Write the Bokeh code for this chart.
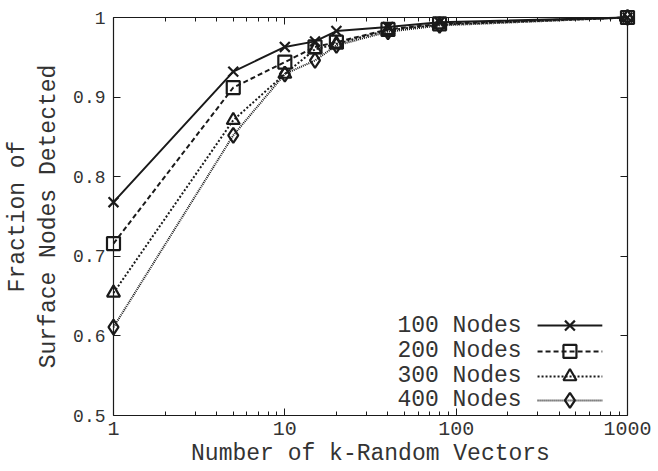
import math
from bokeh.plotting import figure
from bokeh.models import LogAxis, LinearAxis, Range1d, FixedTicker
from bokeh.embed import file_html
from bokeh.resources import INLINE
from bokeh.core.properties import value

# ---- data ----
k_vectors = [1, 5, 10, 15, 20, 40, 80, 1000]
nodes_100 = [0.768, 0.932, 0.963, 0.970, 0.983, 0.988, 0.994, 1.0]
nodes_200 = [0.716, 0.912, 0.944, 0.963, 0.969, 0.985, 0.992, 1.0]
nodes_300 = [0.654, 0.871, 0.929, 0.960, 0.967, 0.984, 0.991, 1.0]
nodes_400 = [0.611, 0.852, 0.929, 0.946, 0.965, 0.982, 0.990, 1.0]
series_labels = ["100 Nodes", "200 Nodes", "300 Nodes", "400 Nodes"]

x_ticks = [1, 10, 100, 1000]
x_tick_labels = ["1", "10", "100", "1000"]
y_ticks = [0.5, 0.6, 0.7, 0.8, 0.9, 1.0]
y_tick_labels = ["0.5", "0.6", "0.7", "0.8", "0.9", "1"]
x_title = "Number of k-Random Vectors"
y_title = "Fraction of\nSurface Nodes Detected"

FONT = "Liberation Mono"
INK = "#1a1a1a"
TXT = "#333333"

# ---- layout (pixels): the frame fills the canvas, the axis box sits inside it ----
W, H = 658, 471
BOX_L, BOX_R, BOX_T, BOX_B = 113, 627, 17, 415
XMIN, XMAX = 1, 1000
YMIN, YMAX = 0.5, 1.0
dec = math.log10(XMAX) - math.log10(XMIN)
px_per_dec = (BOX_R - BOX_L) / dec
px_per_y = (BOX_B - BOX_T) / (YMAX - YMIN)
x_lo = XMIN * 10 ** (-BOX_L / px_per_dec)
x_hi = XMAX * 10 ** ((W - BOX_R) / px_per_dec)
y_lo = YMIN - (H - BOX_B) / px_per_y
y_hi = YMAX + BOX_T / px_per_y

p = figure(width=W, height=H, x_axis_type="log",
           x_range=Range1d(x_lo, x_hi), y_range=Range1d(y_lo, y_hi),
           output_backend="svg", toolbar_location=None,
           min_border=0, min_border_left=0, min_border_right=0,
           min_border_top=0, min_border_bottom=0)
p.xgrid.visible = False
p.ygrid.visible = False
p.outline_line_color = None
p.background_fill_color = "white"
p.border_fill_color = "white"

minor = [m * d for d in (1, 10, 100) for m in range(2, 10)]
xticker = FixedTicker(ticks=x_ticks, minor_ticks=minor)
yticker = FixedTicker(ticks=y_ticks)

bottom = p.below[0]
left = p.left[0]
top = LogAxis()
right = LinearAxis()
p.add_layout(top, "above")
p.add_layout(right, "right")

for ax in (bottom, top):
    ax.ticker = xticker
    ax.bounds = (XMIN, XMAX)
for ax in (left, right):
    ax.ticker = yticker
    ax.bounds = (YMIN, YMAX)

bottom.fixed_location = YMIN
top.fixed_location = YMAX
left.fixed_location = XMIN
right.fixed_location = XMAX

for ax in (bottom, left, top, right):
    ax.axis_line_color = INK
    ax.axis_line_width = 1.2
    ax.major_tick_line_color = INK
    ax.minor_tick_line_color = INK
    ax.major_tick_in = 7
    ax.major_tick_out = 0
    ax.minor_tick_in = 4
    ax.minor_tick_out = 0
    ax.major_label_text_font = FONT
    ax.major_label_text_color = TXT
    ax.axis_label_text_font = FONT
    ax.axis_label_text_color = TXT
    ax.axis_label_text_font_style = "normal"
    ax.axis_label_text_font_size = "23px"
left.minor_tick_line_color = None
right.minor_tick_line_color = None

for ax in (top, right):
    ax.major_label_text_color = None
    ax.major_label_text_font_size = "1px"
    ax.major_label_standoff = 0

bottom.major_label_overrides = dict(zip(x_ticks, x_tick_labels))
left.major_label_overrides = dict(zip(y_ticks, y_tick_labels))
bottom.major_label_text_font_size = "20px"
left.major_label_text_font_size = "18px"
bottom.major_label_standoff = 6
left.major_label_standoff = 8
bottom.axis_label = x_title
left.axis_label = y_title
bottom.axis_label_standoff = 3
left.axis_label_standoff = 8

styles = [
    dict(vals=nodes_100, dash="solid", lw=2.0, marker="x", size=14),
    dict(vals=nodes_200, dash="5 3", lw=2.0, marker="square", size=13),
    dict(vals=nodes_300, dash="2 2", lw=2.0, marker="triangle", size=13),
    dict(vals=nodes_400, dash="1 1", lw=2.0, marker="diamond", size=15),
]

for s in styles:
    p.line(k_vectors, s["vals"], line_color=INK, line_width=s["lw"], line_dash=s["dash"])
    p.scatter(k_vectors, s["vals"], marker=s["marker"], size=s["size"],
              line_color=INK, fill_color=None, line_width=2.2)

# ---- manual legend (text left, glyph right), positioned as axis-box fractions ----
def fx(f):
    return XMIN * 10 ** (dec * f)

def fy(f):
    return YMIN + (YMAX - YMIN) * f

rows = [0.226, 0.161, 0.098, 0.038]
text_end, seg_a, seg_b, mark_x = 0.794, 0.825, 0.951, 0.888
for s, lab, r in zip(styles, series_labels, rows):
    p.text(x=[fx(text_end)], y=[fy(r)], text=[lab], text_align="right",
           text_baseline="middle", text_font=value(FONT), text_font_size="23px",
           text_color=TXT)
    p.segment(x0=[fx(seg_a)], y0=[fy(r)], x1=[fx(seg_b)], y1=[fy(r)],
              line_color=INK, line_width=s["lw"], line_dash=s["dash"])
    p.scatter(x=[fx(mark_x)], y=[fy(r)], marker=s["marker"], size=s["size"],
              line_color=INK, fill_color=None, line_width=2.2)

open("out.html", "w").write(file_html(p, INLINE))
